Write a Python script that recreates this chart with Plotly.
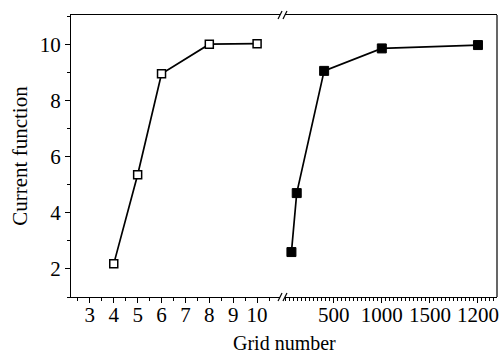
import plotly.graph_objects as go

# ---- data ----
coarse_grid = [4, 5, 6, 8, 10]
coarse_value = [2.18, 5.35, 8.95, 10.0, 10.02]

fine_grid = [60, 115, 400, 1000, 2000]
fine_value = [2.6, 4.7, 9.05, 9.85, 9.97]

left_ticks = [3, 4, 5, 6, 7, 8, 9, 10]
left_ticktext = ["3", "4", "5", "6", "7", "8", "9", "10"]
right_ticks = [500, 1000, 1500, 2000]
right_ticktext = ["500", "1000", "1500", "1200"]
y_ticks = [2, 4, 6, 8, 10]

W, H = 501, 354
ML, MR, MT, MB = 71, 2, 15, 57
PW, PH = W - ML - MR, H - MT - MB
left_end_px, right_start_px = 281, 286
d1 = (left_end_px - ML) / PW
d2 = (right_start_px - ML) / PW

FONT = "Liberation Serif"
TICK_SIZE = 21
TITLE_SIZE = 20

fig = go.Figure()
fig.add_trace(go.Scatter(
    x=coarse_grid, y=coarse_value, xaxis="x", yaxis="y", mode="lines+markers",
    line=dict(color="black", width=1.7),
    marker=dict(symbol="square", size=8, color="white", line=dict(color="black", width=1.5)),
    showlegend=False))
fig.add_trace(go.Scatter(
    x=fine_grid, y=fine_value, xaxis="x2", yaxis="y", mode="lines+markers",
    line=dict(color="black", width=1.7),
    marker=dict(symbol="square", size=9, color="black", line=dict(color="black", width=1)),
    showlegend=False))

axis_common = dict(showline=True, linecolor="black", linewidth=1.2, mirror=True,
                   ticks="outside", ticklen=5, tickwidth=1, tickcolor="black",
                   showgrid=False, zeroline=False,
                   tickfont=dict(family=FONT, size=TICK_SIZE, color="black"))

fig.update_layout(
    width=W, height=H,
    margin=dict(l=ML, r=MR, t=MT, b=MB),
    paper_bgcolor="white", plot_bgcolor="white",
    font=dict(family=FONT, color="black"),
    xaxis=dict(domain=[0, d1], range=[2.21, 10.96], anchor="y",
               tickvals=left_ticks, ticktext=left_ticktext, ticklabelstandoff=-6,
               minor=dict(ticks="outside", ticklen=3, tickcolor="black", dtick=0.5, tick0=0.5),
               **axis_common),
    xaxis2=dict(domain=[d2, 1], range=[-7, 2198], anchor="y",
                tickvals=right_ticks, ticktext=right_ticktext, ticklabelstandoff=-6,
                minor=dict(ticks="outside", ticklen=3, tickcolor="black", dtick=500 / 12, tick0=0),
                **axis_common),
    yaxis=dict(domain=[0, 1], range=[1, 11.04], anchor="x",
               tickvals=y_ticks,
               minor=dict(ticks="outside", ticklen=3, tickcolor="black", dtick=1, tick0=1),
               title=dict(text="Current function", font=dict(family=FONT, size=21, color="black"), standoff=6),
               **{k: v for k, v in axis_common.items() if k != "mirror"}),
)

# x axis title as centered annotation below whole frame
fig.add_annotation(text="Grid number", xref="paper", yref="paper", x=0.5, y=0,
                   yshift=-46, showarrow=False, xanchor="center", yanchor="middle",
                   font=dict(family=FONT, size=TITLE_SIZE, color="black"))

# right spine
fig.add_shape(type="line", xref="paper", yref="paper", x0=1, x1=1, y0=0, y1=1,
              line=dict(color="black", width=1.2))

# break marks
px = 1 / PW
py = 1 / PH
for yc in (0, 1):
    for xc in (d1, d2):
        fig.add_shape(type="line", xref="paper", yref="paper",
                      x0=xc - 2 * px, x1=xc + 2 * px, y0=yc - 4 * py, y1=yc + 4 * py,
                      line=dict(color="black", width=1.2))

fig.write_html("out.html", config={"displayModeBar": False},
               post_script="document.body.style.margin='0';document.body.style.overflow='hidden';")
